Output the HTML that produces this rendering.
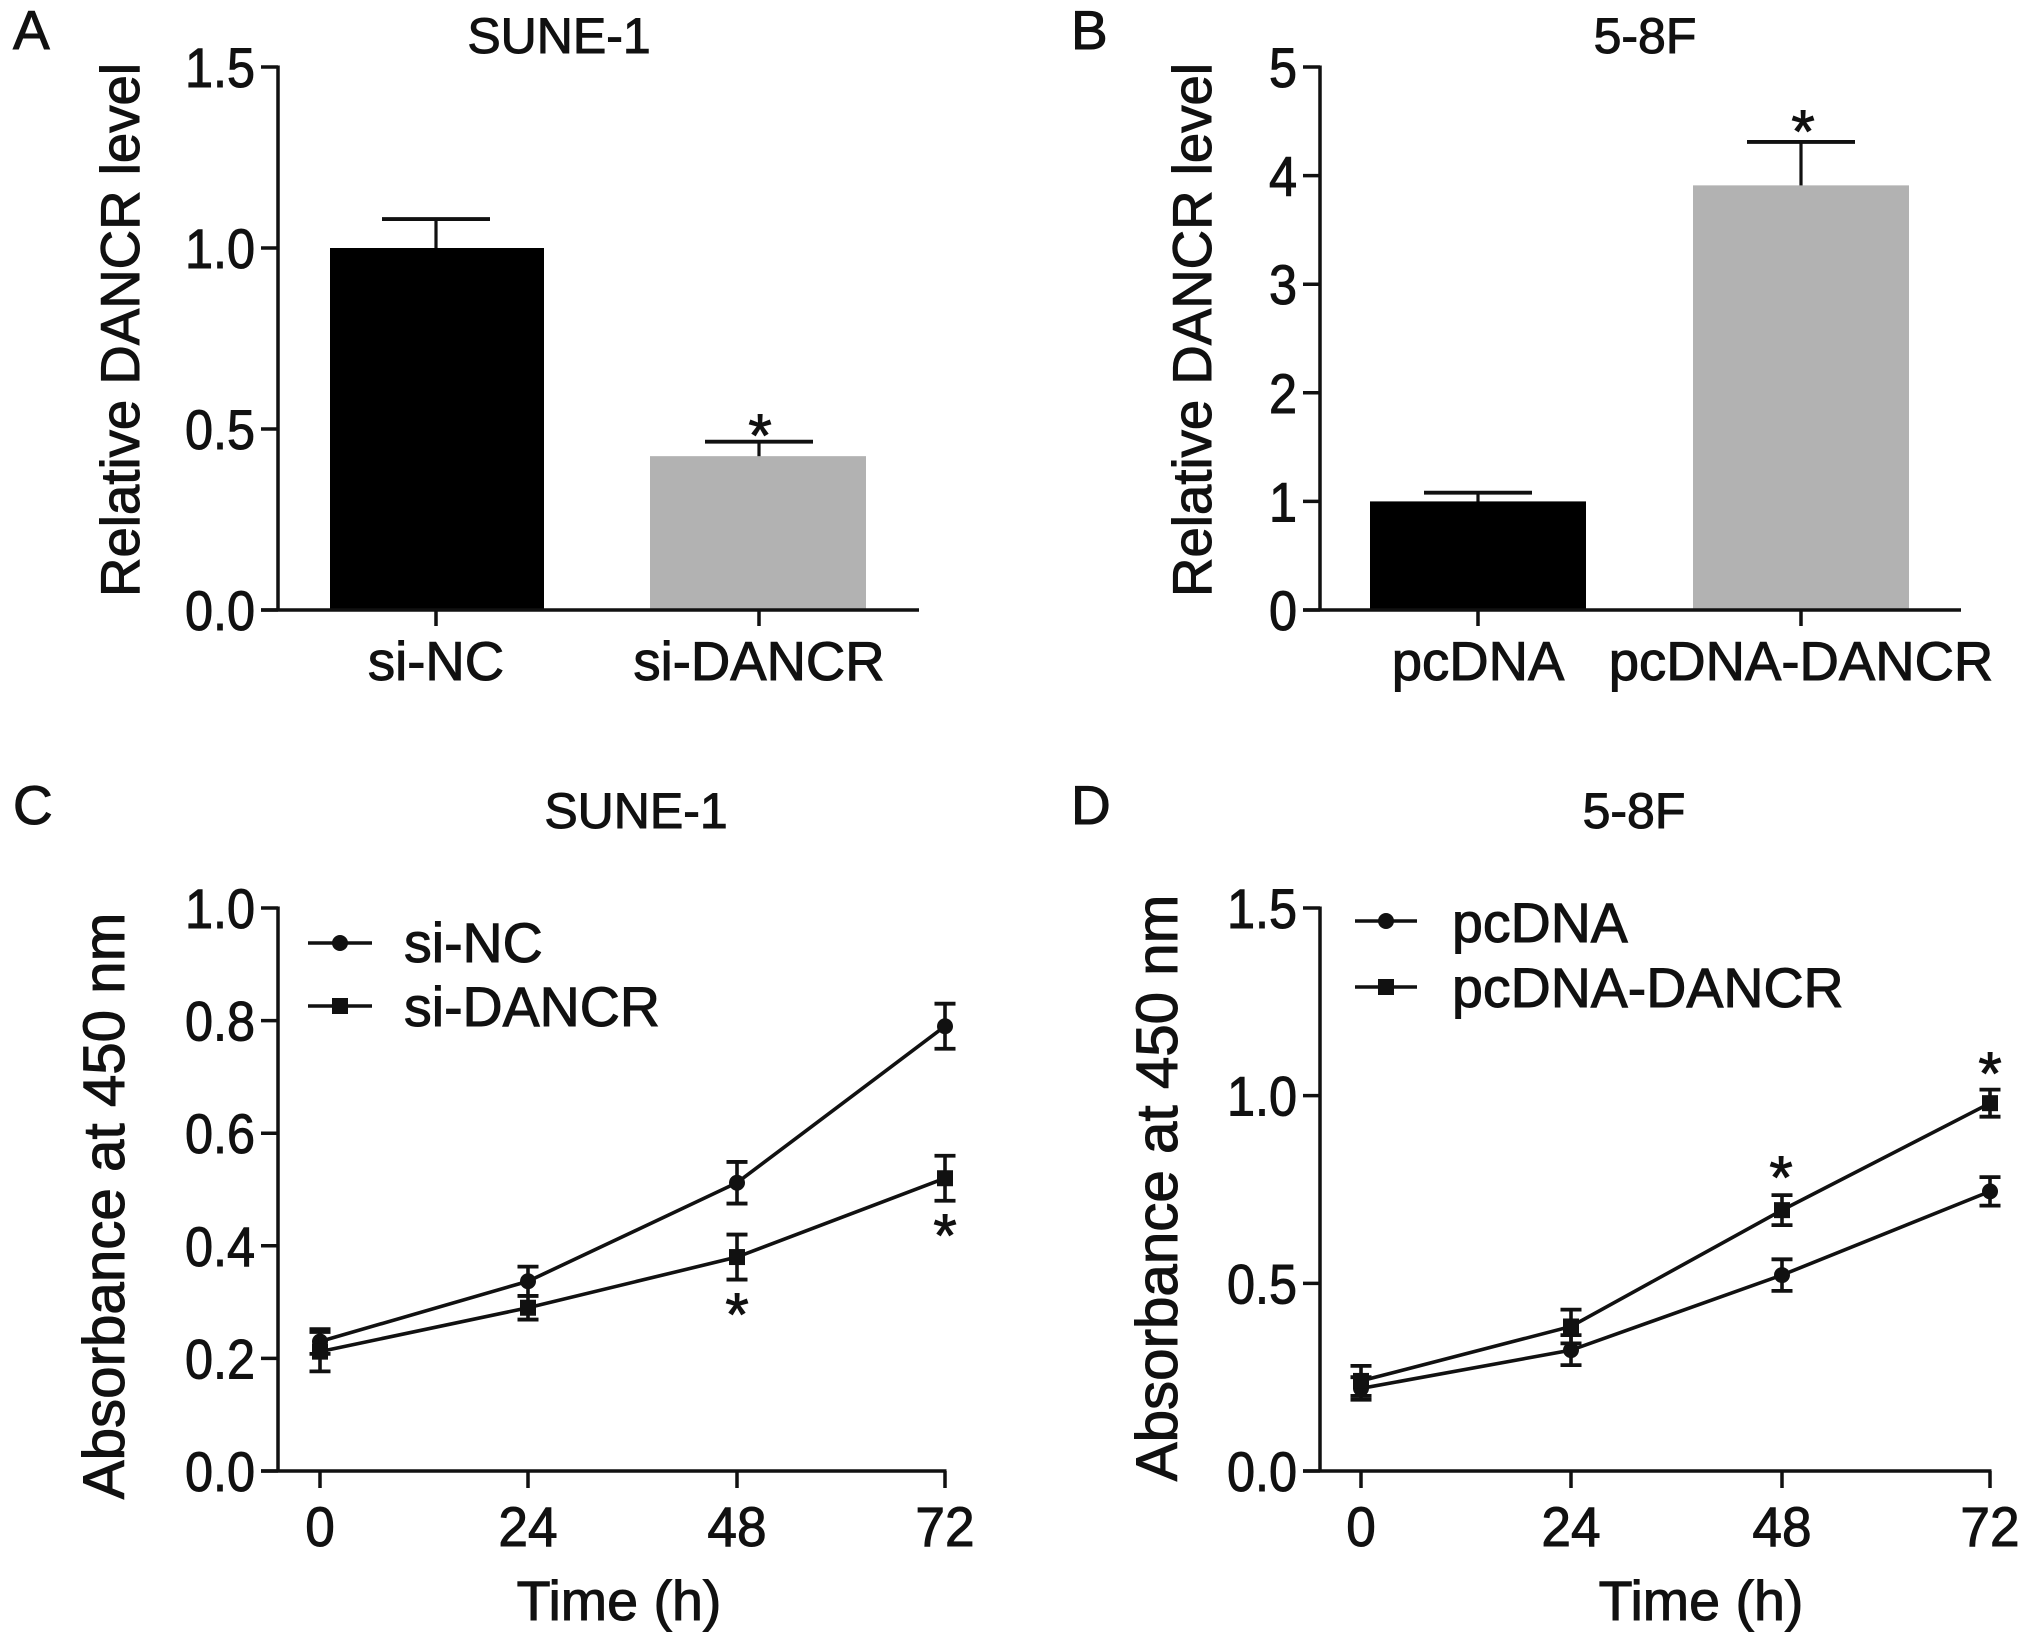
<!DOCTYPE html>
<html>
<head>
<meta charset="utf-8">
<title>DANCR figure</title>
<style>
html,body{margin:0;padding:0;background:#fff;}
svg{display:block;}
text{font-family:"Liberation Sans",sans-serif;fill:#111;stroke:#111;stroke-width:1;}
</style>
</head>
<body>
<svg id="fig" xmlns="http://www.w3.org/2000/svg" width="2031" height="1646" viewBox="0 0 2031 1646"></svg>
<script>
const barCategoriesA = ['si-NC', 'si-DANCR'];
const barValuesA = [1.0, 0.425];
const barErrorsA = [0.08, 0.04];
const barTicksA = ['0.0', '0.5', '1.0', '1.5'];
const barCategoriesB = ['pcDNA', 'pcDNA-DANCR'];
const barValuesB = [1.0, 3.91];
const barErrorsB = [0.08, 0.40];
const barTicksB = ['0', '1', '2', '3', '4', '5'];
const timeCategories = ['0', '24', '48', '72'];
const lineTicksC = ['0.0', '0.2', '0.4', '0.6', '0.8', '1.0'];
const lineTicksD = ['0.0', '0.5', '1.0', '1.5'];
const siNcValues = [0.23, 0.337, 0.512, 0.79];
const siNcErrors = [0.022, 0.026, 0.037, 0.04];
const siDancrValues = [0.212, 0.29, 0.38, 0.52];
const siDancrErrors = [0.035, 0.021, 0.04, 0.04];
const pcdnaValues = [0.22, 0.322, 0.522, 0.745];
const pcdnaErrors = [0.03, 0.04, 0.042, 0.038];
const pcdnaDancrValues = [0.24, 0.385, 0.695, 0.98];
const pcdnaDancrErrors = [0.04, 0.045, 0.04, 0.036];

const NS = 'http://www.w3.org/2000/svg';
const fig = document.getElementById('fig');
const INK = '#111';

function mk(tag, attrs, parent) {
  const el = document.createElementNS(NS, tag);
  for (const k in attrs) el.setAttribute(k, attrs[k]);
  (parent || fig).appendChild(el);
  return el;
}
function seg(x1, y1, x2, y2, w, name, parent) {
  const el = mk('line', {x1: x1, y1: y1, x2: x2, y2: y2, stroke: INK, 'stroke-width': w}, parent);
  
  
  return el;
}
function label(str, x, y, size, anchor, name, rotate, sx, parent) {
  const t = 'translate(' + x + ' ' + y + ')' + (rotate ? ' rotate(-90)' : '') + (sx ? ' scale(' + sx + ' 1)' : '');
  const el = mk('text', {transform: t, 'font-size': size, 'text-anchor': anchor}, parent);
  el.textContent = str;
  
  
  return el;
}
function group(name) {
  const g = mk('g', {});
  
  
  return g;
}
function linearY(y0, yTop, maxV) {
  return function (v) { return y0 - v * (y0 - yTop) / maxV; };
}
function yAxis(g, axisX, y0, yTop, ticks, yFn, title, titleX, titleY, titleSize) {
  seg(axisX, yTop - 1.5, axisX, y0 + 1.5, 3.5, 'y-axis-line', g);
  ticks.forEach(function (tick) {
    const y = yFn(parseFloat(tick));
    seg(axisX - 17, y, axisX, y, 3.5, 'y-tick-' + tick, g);
    label(tick, axisX - 23, y + 20, 56, 'end', 'y-tick-label-' + tick, false, 0.9, g);
  });
  label(title, titleX, titleY, titleSize, 'middle', 'y-axis-title', true, 0, g);
}

function barPanel(name, letter, letterX, title, titleX, axisX, axisEnd, centers, edges, cats, vals, errs, ticks, maxV, titleAxisX) {
  const g = group(name);
  const y0 = 610, yTop = 67;
  const yFn = linearY(y0, yTop, maxV);
  label(letter, letterX, 49, 55, 'start', 'panel-letter', false, 0, g);
  label(title, titleX, 53, 50, 'middle', 'chart-title', false, 0, g);
  cats.forEach(function (cat, i) {
    const top = yFn(vals[i]);
    const errTop = yFn(vals[i] + errs[i]);
    seg(centers[i], errTop, centers[i], top + 4, 3.2, 'error-bar-' + cat, g);
    seg(centers[i] - 54, errTop, centers[i] + 54, errTop, 3.8, 'error-cap-' + cat, g);
    const bar = mk('rect', {x: edges[i][0], y: top, width: edges[i][1] - edges[i][0], height: y0 - top, fill: i === 0 ? '#000' : '#b2b2b2'}, g);
    
    
    seg(centers[i], y0, centers[i], y0 + 16, 3.5, 'x-tick-' + cat, g);
    label(cat, centers[i], 680, 54.5, 'middle', 'x-tick-label-' + cat, false, 0, g);
  });
  yAxis(g, axisX, y0, yTop, ticks, yFn, 'Relative DANCR level', titleAxisX, 330, 54.6);
  seg(axisX - 17, y0, axisEnd, y0, 3.5, 'x-axis-line', g);
  return {g: g, yFn: yFn};
}

function series(g, key, xs, vals, errs, yFn, isSquare) {
  const pts = vals.map(function (v, i) { return xs[i] + ',' + yFn(v); }).join(' ');
  const line = mk('polyline', {points: pts, fill: 'none', stroke: INK, 'stroke-width': 3.6}, g);
  
  
  vals.forEach(function (v, i) {
    const hi = yFn(v + errs[i]), lo = yFn(v - errs[i]), x = xs[i];
    seg(x, hi, x, lo, 3.6, 'error-bar-' + key + '-' + i, g);
    seg(x - 10.5, hi, x + 10.5, hi, 3.8, 'error-cap-top-' + key + '-' + i, g);
    seg(x - 10.5, lo, x + 10.5, lo, 3.8, 'error-cap-bottom-' + key + '-' + i, g);
    marker(g, x, yFn(v), isSquare, 'point-' + key + '-' + i);
  });
}
function marker(g, x, y, isSquare, name) {
  const el = isSquare
    ? mk('rect', {x: x - 8, y: y - 8, width: 16, height: 16, fill: INK}, g)
    : mk('circle', {cx: x, cy: y, r: 8, fill: INK}, g);
  
  
}
function legendEntry(g, txt, x1, x2, y, textX, baseY, isSquare) {
  seg(x1, y, x2, y, 3.6, 'legend-line-' + txt, g);
  marker(g, (x1 + x2) / 2, y, isSquare, 'legend-marker-' + txt);
  label(txt, textX, baseY, 55.5, 'start', 'legend-entry-' + txt, false, 0, g);
}
function linePanel(name, letter, letterX, title, titleX, axisX, xs, ticks, maxV, titleAxisX, titleAxisY, timeX) {
  const g = group(name);
  const y0 = 1471, yTop = 908;
  const yFn = linearY(y0, yTop, maxV);
  label(letter, letterX, 824, 55, 'start', 'panel-letter', false, 0, g);
  label(title, titleX, 828, 50, 'middle', 'chart-title', false, 0, g);
  timeCategories.forEach(function (cat, i) {
    seg(xs[i], y0, xs[i], y0 + 17, 3.5, 'x-tick-' + cat, g);
    label(cat, xs[i], 1546, 56, 'middle', 'x-tick-label-' + cat, false, 0.95, g);
  });
  yAxis(g, axisX, y0, yTop, ticks, yFn, 'Absorbance at 450 nm', titleAxisX, titleAxisY, 58.3);
  seg(axisX - 17, y0, xs[3] + 1.5, y0, 3.5, 'x-axis-line', g);
  label('Time (h)', timeX, 1620, 55.6, 'middle', 'x-axis-title', false, 0, g);
  return {g: g, yFn: yFn};
}
function star(g, x, y, name) {
  label('*', x, y + 6, 60, 'middle', name, false, 0, g);
}

const panelA = barPanel('panel-a', 'A', 13, 'SUNE-1', 559, 278, 919, [436, 759], [[330, 544], [650, 866]], barCategoriesA, barValuesA, barErrorsA, barTicksA, 1.5, 139);
star(panelA.g, 760, 450, 'significance-star');
const panelB = barPanel('panel-b', 'B', 1071, '5-8F', 1645, 1320, 1961, [1478, 1801], [[1370, 1586], [1693, 1909]], barCategoriesB, barValuesB, barErrorsB, barTicksB, 5, 1211);
star(panelB.g, 1803, 146, 'significance-star');

const xsC = [320, 528, 737, 945];
const panelC = linePanel('panel-c', 'C', 13, 'SUNE-1', 636, 278, xsC, lineTicksC, 1.0, 124, 1206, 619);
series(panelC.g, 'si-NC', xsC, siNcValues, siNcErrors, panelC.yFn, false);
series(panelC.g, 'si-DANCR', xsC, siDancrValues, siDancrErrors, panelC.yFn, true);
legendEntry(panelC.g, 'si-NC', 308, 372, 943, 404, 962, false);
legendEntry(panelC.g, 'si-DANCR', 308, 372, 1006, 404, 1026, true);
star(panelC.g, 737, 1329, 'significance-star-48h');
star(panelC.g, 945, 1250, 'significance-star-72h');

const xsD = [1361, 1571, 1782, 1990];
const panelD = linePanel('panel-d', 'D', 1071, '5-8F', 1634, 1320, xsD, lineTicksD, 1.5, 1177, 1188, 1701);
series(panelD.g, 'pcDNA', xsD, pcdnaValues, pcdnaErrors, panelD.yFn, false);
series(panelD.g, 'pcDNA-DANCR', xsD, pcdnaDancrValues, pcdnaDancrErrors, panelD.yFn, true);
legendEntry(panelD.g, 'pcDNA', 1355, 1417, 921, 1452, 942, false);
legendEntry(panelD.g, 'pcDNA-DANCR', 1355, 1417, 987, 1452, 1007, true);
star(panelD.g, 1781, 1192, 'significance-star-48h');
star(panelD.g, 1990, 1088, 'significance-star-72h');
</script>
</body>
</html>
